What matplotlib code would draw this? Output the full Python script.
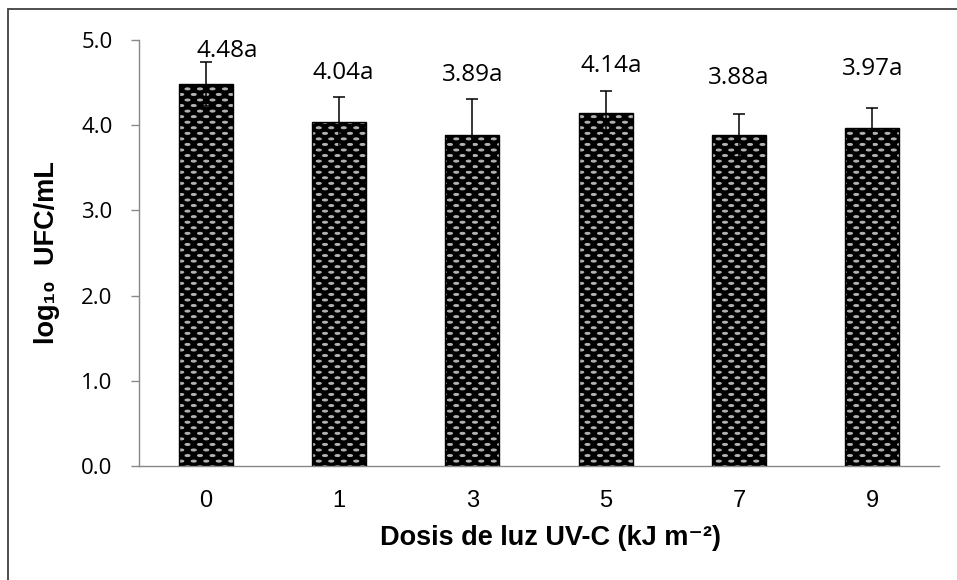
import warnings
import numpy as np
import matplotlib
matplotlib.use('Agg')
import matplotlib.pyplot as plt
from matplotlib import hatch as mhatch
from matplotlib.path import Path
from matplotlib.patches import Rectangle

warnings.filterwarnings('ignore')

doses = ['0', '1', '3', '5', '7', '9']
log_ufc = [4.48, 4.04, 3.89, 4.14, 3.88, 3.97]
std_err = [0.26, 0.29, 0.42, 0.26, 0.25, 0.23]
letters = ['a', 'a', 'a', 'a', 'a', 'a']

# where each value label sits (data units)
label_y = [4.87, 4.61, 4.59, 4.70, 4.55, 4.66]
label_dx = [0.165, 0.03, 0.0, 0.04, 0.0, 0.005]


class BrickDashes(mhatch.HatchPatternBase):
    """Short horizontal dashes in a brick layout, 9 rows per '='."""

    def __init__(self, hatch, density):
        self.rows = hatch.count('=') * 9
        self.cols = 8
        ell = Path.unit_circle()
        self.shape = ell.vertices * [0.025, 0.010]
        self.shape_codes = ell.codes
        if self.rows == 0:
            self.num_vertices = 0
        else:
            n = sum(self.cols + 1 if r % 2 == 0 else self.cols
                    for r in range(self.rows + 1))
            self.num_vertices = n * len(self.shape)

    def set_vertices_and_codes(self, vertices, codes):
        verts, cds = [], []
        for r in range(self.rows + 1):
            y = r / self.rows
            if r % 2 == 0:
                xs = np.linspace(0, 1, self.cols + 1)
            else:
                xs = (np.arange(self.cols) + 0.5) / self.cols
            for x in xs:
                verts.append(self.shape + [x, y])
                cds.append(self.shape_codes)
        np.concatenate(verts, out=vertices)
        np.concatenate(cds, out=codes)


mhatch._hatch_types.append(BrickDashes)

plt.rcParams['hatch.linewidth'] = 0.7

fig = plt.figure(figsize=(9.57, 5.8), dpi=100)
ax = fig.add_axes([139 / 957, 1 - 466 / 580, 800 / 957, 426 / 580])

x = np.arange(len(doses))
ax.bar(x, log_ufc, width=0.405, color='black', edgecolor='#b4b4b4',
       linewidth=0, hatch='==', zorder=2)
ax.bar(x, log_ufc, width=0.405, fill=False, edgecolor='black',
       linewidth=1.0, zorder=3)
ax.errorbar(x, log_ufc, yerr=std_err, fmt='none', ecolor='black',
            elinewidth=1.1, capsize=4, capthick=1.1, zorder=4)

for xi, v, l, ly, dx in zip(x, log_ufc, letters, label_y, label_dx):
    ax.text(xi + dx, ly, f'{v:.2f}{l}', ha='center', va='center',
            fontsize=17.5, family='Open Sans')

ax.set_xlim(-0.5, len(doses) - 0.5)
ax.set_ylim(0, 5)
ax.set_yticks(np.arange(0, 5.1, 1.0))
ax.set_yticklabels([f'{t:.1f}' for t in np.arange(0, 5.1, 1.0)],
                   family='Open Sans', fontsize=16)
ax.set_xticks(x)
ax.set_xticklabels(doses, family='Liberation Sans', fontsize=17)
ax.tick_params(axis='y', length=6, width=1, color='#898989', pad=13)
ax.tick_params(axis='x', length=0, pad=17)

for side in ['top', 'right']:
    ax.spines[side].set_visible(False)
for side in ['left', 'bottom']:
    ax.spines[side].set_color('#898989')
    ax.spines[side].set_linewidth(1.0)

ax.set_xlabel('Dosis de luz UV-C (kJ m⁻²)', family=['Liberation Sans', 'DejaVu Sans'],
              fontweight='bold', fontsize=19.5)
ax.xaxis.set_label_coords(0.514, -0.138)
ax.set_ylabel('log₁₀  UFC/mL', family=['Liberation Sans', 'DejaVu Sans'],
              fontweight='bold', fontsize=19.5)
ax.yaxis.set_label_coords(-0.099, 0.5)

# outer chart border, running off the right and bottom edges
fig.patches.append(Rectangle((8 / 957, -0.1), 1.2, 1 - 9 / 580 + 0.1,
                             transform=fig.transFigure, fill=False,
                             edgecolor='#404040', linewidth=1.3))

fig.savefig('out.png', dpi=100)
